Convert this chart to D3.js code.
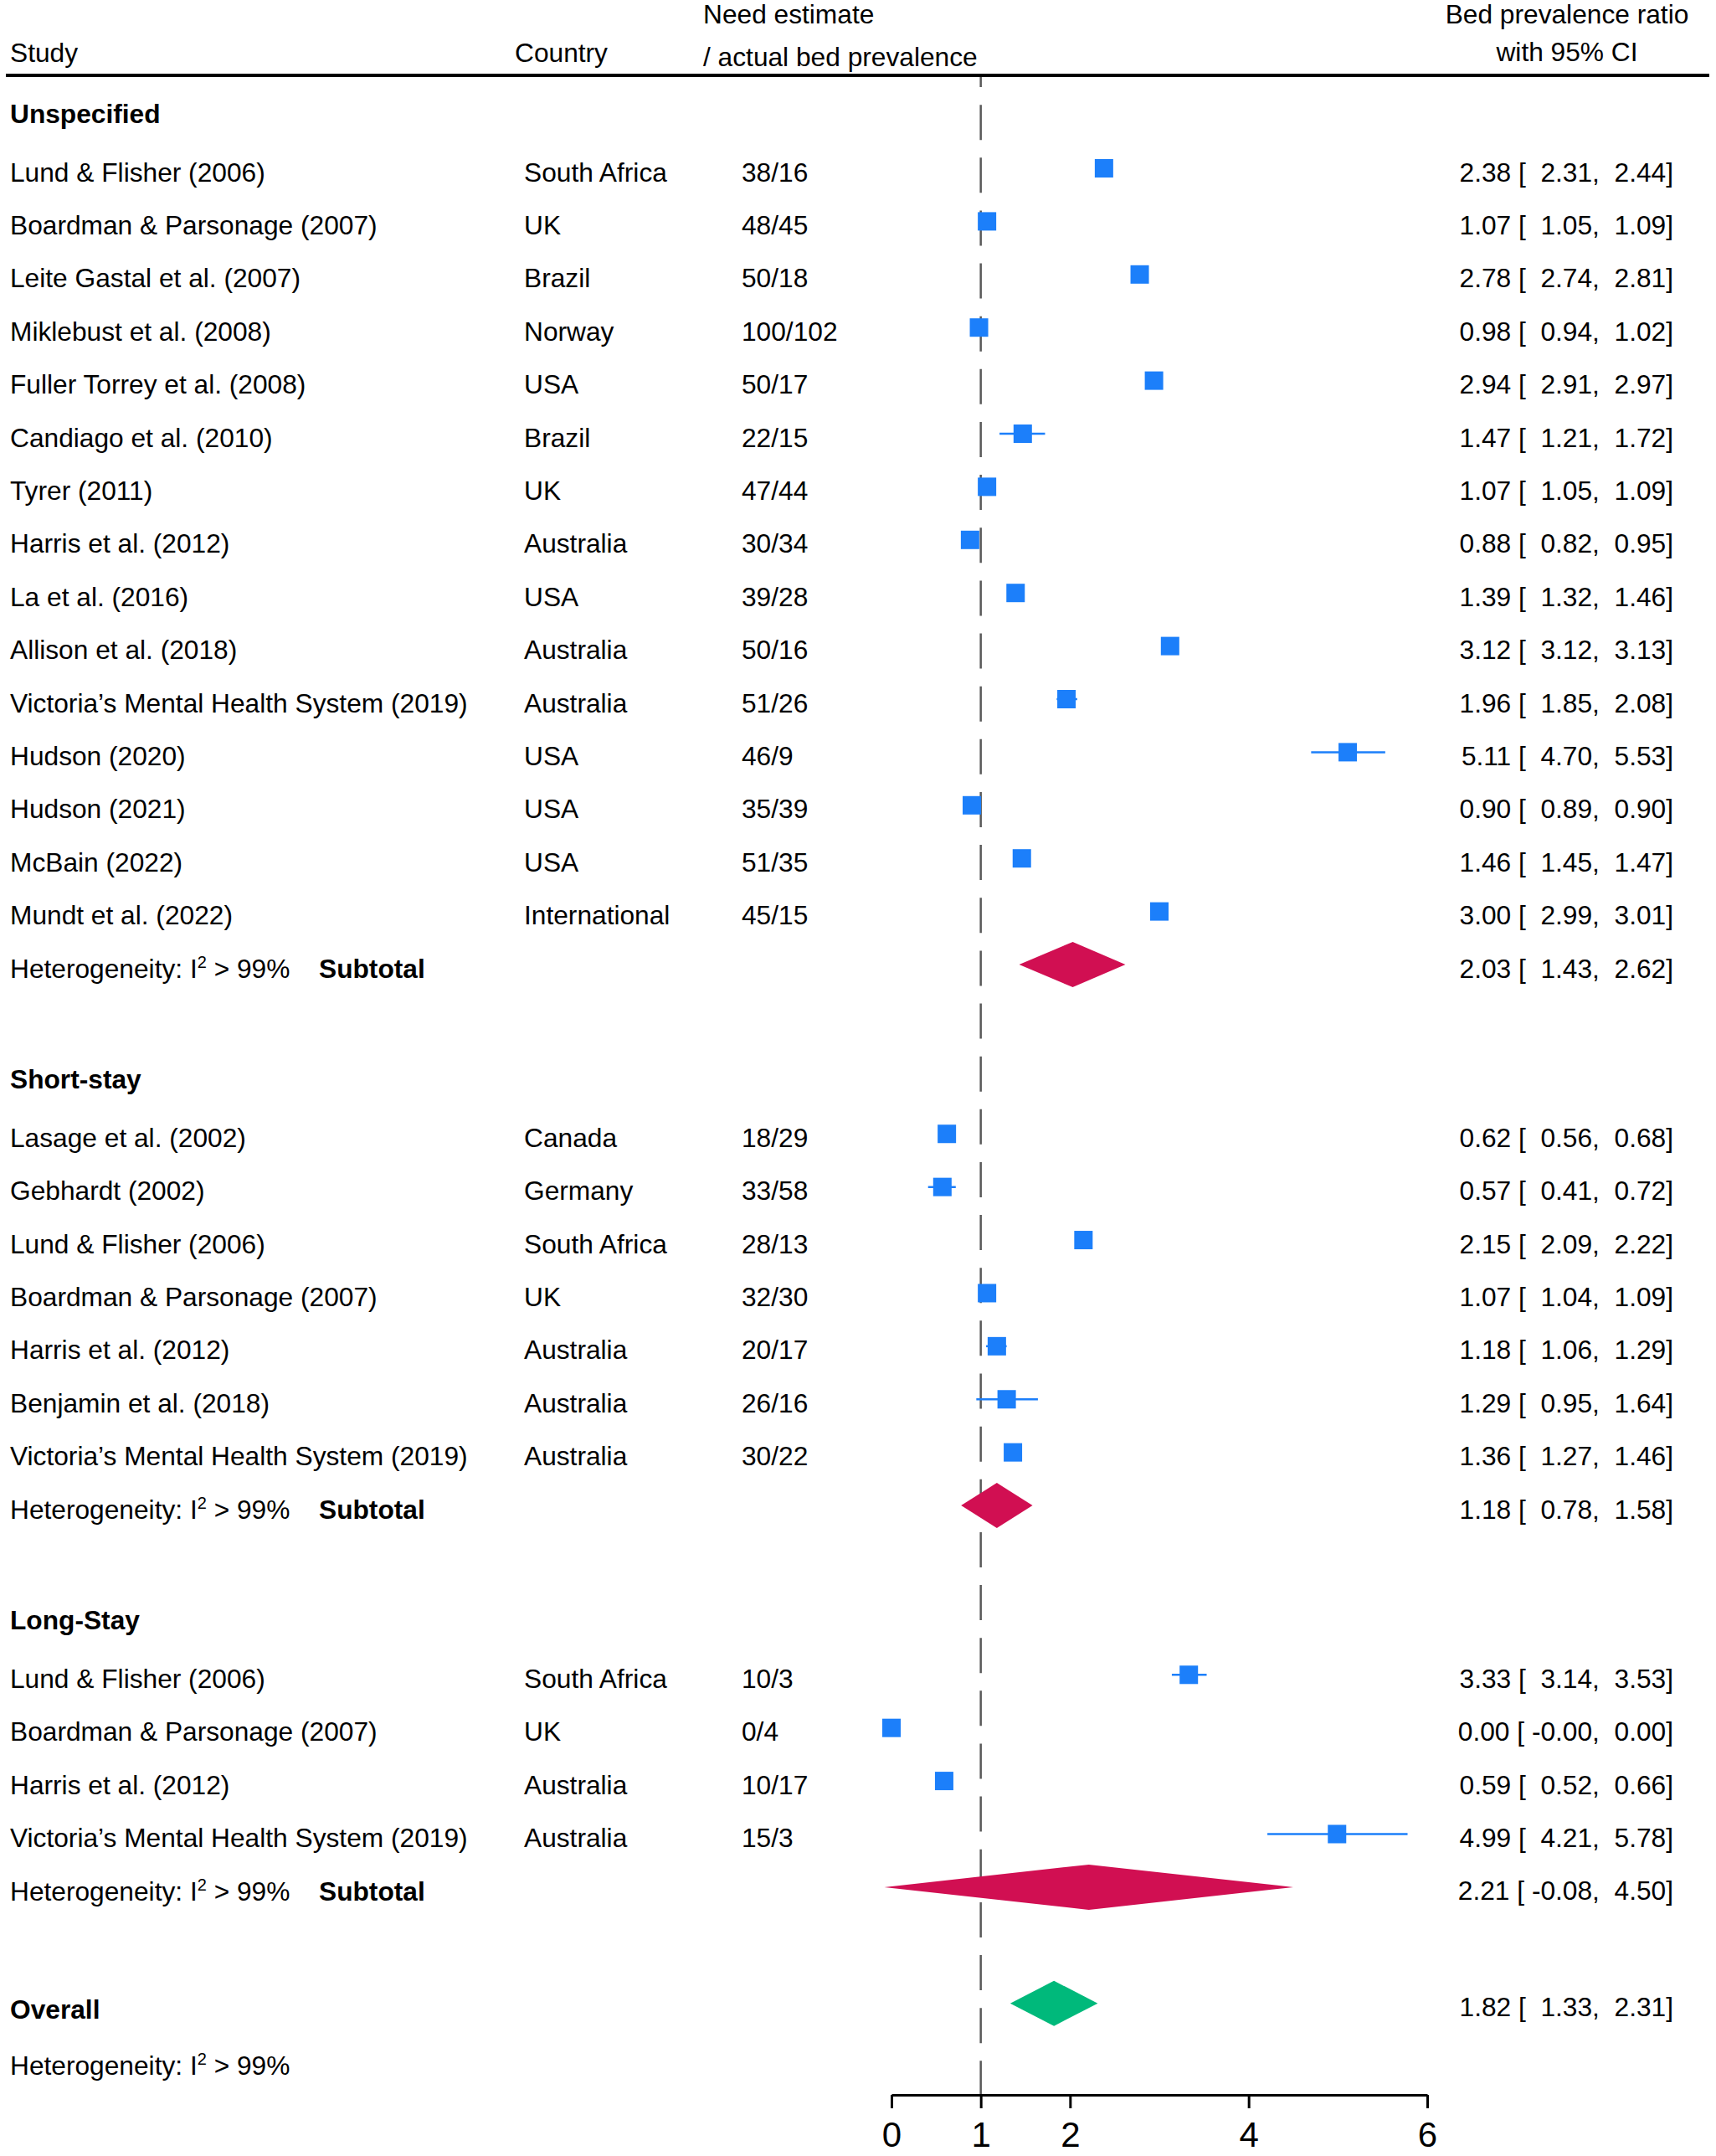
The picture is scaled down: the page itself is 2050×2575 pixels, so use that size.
<!DOCTYPE html>
<html lang="en">
<head>
  <meta charset="utf-8">
  <title>bed prevalence forest plot</title>
  <style>
    body { margin: 0; background: #fff; }
    svg text { font-family: "Liberation Sans", Arial, Helvetica, sans-serif; fill: #000; }
    .mono { white-space: pre; }
  </style>
</head>
<body>

  <svg class="canvas" width="2050" height="2575"></svg>

  <script src="https://cdn.jsdelivr.net/npm/d3@7"></script>
  <script>

/**

  data

**/

const groupNames = ["Unspecified", "Short-stay", "Long-Stay"];

const studyGroup = [0,0,0,0,0,0,0,0,0,0,0,0,0,0,0, 1,1,1,1,1,1,1, 2,2,2,2];

const studyNames = [
  "Lund & Flisher (2006)", "Boardman & Parsonage (2007)", "Leite Gastal et al. (2007)",
  "Miklebust et al. (2008)", "Fuller Torrey et al. (2008)", "Candiago et al. (2010)",
  "Tyrer (2011)", "Harris et al. (2012)", "La et al. (2016)", "Allison et al. (2018)",
  "Victoria\u2019s Mental Health System (2019)", "Hudson (2020)", "Hudson (2021)",
  "McBain (2022)", "Mundt et al. (2022)",
  "Lasage et al. (2002)", "Gebhardt (2002)", "Lund & Flisher (2006)",
  "Boardman & Parsonage (2007)", "Harris et al. (2012)", "Benjamin et al. (2018)",
  "Victoria\u2019s Mental Health System (2019)",
  "Lund & Flisher (2006)", "Boardman & Parsonage (2007)", "Harris et al. (2012)",
  "Victoria\u2019s Mental Health System (2019)"
];

const countries = [
  "South Africa", "UK", "Brazil", "Norway", "USA", "Brazil", "UK", "Australia", "USA",
  "Australia", "Australia", "USA", "USA", "USA", "International",
  "Canada", "Germany", "South Africa", "UK", "Australia", "Australia", "Australia",
  "South Africa", "UK", "Australia", "Australia"
];

const needActual = [
  "38/16", "48/45", "50/18", "100/102", "50/17", "22/15", "47/44", "30/34", "39/28",
  "50/16", "51/26", "46/9", "35/39", "51/35", "45/15",
  "18/29", "33/58", "28/13", "32/30", "20/17", "26/16", "30/22",
  "10/3", "0/4", "10/17", "15/3"
];

const ratio  = [2.38, 1.07, 2.78, 0.98, 2.94, 1.47, 1.07, 0.88, 1.39, 3.12, 1.96, 5.11, 0.90, 1.46, 3.00,
                0.62, 0.57, 2.15, 1.07, 1.18, 1.29, 1.36,
                3.33, 0.00, 0.59, 4.99];
const ciLow  = [2.31, 1.05, 2.74, 0.94, 2.91, 1.21, 1.05, 0.82, 1.32, 3.12, 1.85, 4.70, 0.89, 1.45, 2.99,
                0.56, 0.41, 2.09, 1.04, 1.06, 0.95, 1.27,
                3.14, -0.001, 0.52, 4.21];
const ciHigh = [2.44, 1.09, 2.81, 1.02, 2.97, 1.72, 1.09, 0.95, 1.46, 3.13, 2.08, 5.53, 0.90, 1.47, 3.01,
                0.68, 0.72, 2.22, 1.09, 1.29, 1.64, 1.46,
                3.53, 0.00, 0.66, 5.78];

// subgroup pooled estimates
const subRatio = [2.03, 1.18, 2.21];
const subLow   = [1.43, 0.78, -0.08];
const subHigh  = [2.62, 1.58, 4.50];

const overallRatio = [1.82, 1.33, 2.31];   // estimate, lower, upper
const heterogeneity = "> 99%";

const xTicks = [0, 1, 2, 4, 6];


/**

  layout

**/

const rowH = 63.4;
const blue = "#1C7FFA", crimson = "#D10F52", green = "#00B97B";
const fs = 31.7;

let x = d3.scaleLinear().domain([0, 6]).range([1065, 1705]);

let colStudy = 12, colCountry = 626, colNeed = 886, colAnnot = 1999;

let svg = d3.select(".canvas");

// work out the row for every heading / study / subtotal
let rows = [];
let y = 137.6;
groupNames.forEach(function(g, gi) {
  rows.push({type: "heading", y: y, label: g});
  studyGroup.forEach(function(sg, i) {
    if (sg == gi) {
      y += rowH;
      rows.push({type: "study", y: y, i: i});
    }
  });
  y += rowH;
  rows.push({type: "subtotal", y: y, g: gi});
  y += rowH * 2.19;
});
let overallY = y;
let hetY = overallY + rowH * 1.1;

function fmt(v) {
  return v.toFixed(2).padStart(6);
}
function annot(est, lo, hi) {
  return est.toFixed(2) + " [" + fmt(lo) + "," + fmt(hi) + "]";
}

function hetText(sel, xpos, ypos) {
  let t = sel.append("text")
    .attr("x", xpos).attr("y", ypos)
    .attr("font-size", fs);
  t.append("tspan").text("Heterogeneity: I");
  t.append("tspan").text("2").attr("font-size", 20).attr("dy", -12);
  t.append("tspan").text(" " + heterogeneity).attr("dy", 12);
  return t;
}

function diamond(cx, lo, hi, cy, h) {
  return "M" + x(lo) + "," + cy + "L" + x(cx) + "," + (cy - h) +
         "L" + x(hi) + "," + cy + "L" + x(cx) + "," + (cy + h) + "Z";
}


/**

  header

**/

let head = svg.append("g");
head.append("text").attr("x", colStudy).attr("y", 74).attr("font-size", fs).text("Study");
head.append("text").attr("x", 615).attr("y", 74).attr("font-size", fs).text("Country");
head.append("text").attr("x", 840).attr("y", 28).attr("font-size", fs).text("Need estimate");
head.append("text").attr("x", 840).attr("y", 79).attr("font-size", fs).text("/ actual bed prevalence");
head.append("text").attr("x", 1872).attr("y", 28).attr("font-size", fs)
  .attr("text-anchor", "middle").text("Bed prevalence ratio");
head.append("text").attr("x", 1872).attr("y", 73).attr("font-size", fs)
  .attr("text-anchor", "middle").text("with 95% CI");

svg.append("line")
  .attr("x1", 7).attr("x2", 2042).attr("y1", 90).attr("y2", 90)
  .attr("stroke", "#000").attr("stroke-width", 4);

// reference line at ratio 1
svg.append("line")
  .attr("x1", x(1)).attr("x2", x(1))
  .attr("y1", 92).attr("y2", 2502)
  .attr("stroke", "#5a5a5a").attr("stroke-width", 2.5)
  .attr("stroke-dasharray", "42 21.14")
  .attr("stroke-dashoffset", 30);


/**

  rows

**/

let g = svg.append("g");

rows.forEach(function(r) {
  if (r.type == "heading") {
    g.append("text").attr("x", colStudy).attr("y", r.y + 9)
      .attr("font-size", fs).attr("font-weight", "bold").text(r.label);
  }
  else if (r.type == "study") {
    let i = r.i;
    g.append("text").attr("x", colStudy).attr("y", r.y + 15.5).attr("font-size", fs).text(studyNames[i]);
    g.append("text").attr("x", colCountry).attr("y", r.y + 15.5).attr("font-size", fs).text(countries[i]);
    g.append("text").attr("x", colNeed).attr("y", r.y + 15.5).attr("font-size", fs).text(needActual[i]);
    g.append("text").attr("class", "mono").attr("x", colAnnot).attr("y", r.y + 15.5)
      .attr("font-size", fs).attr("text-anchor", "end")
      .text(annot(ratio[i], ciLow[i], ciHigh[i]));

    g.append("line")
      .attr("x1", x(ciLow[i])).attr("x2", x(ciHigh[i]))
      .attr("y1", r.y).attr("y2", r.y)
      .attr("stroke", blue).attr("stroke-width", 2.5);
    g.append("rect")
      .attr("x", x(ratio[i]) - 11).attr("y", r.y - 11)
      .attr("width", 22).attr("height", 22)
      .attr("fill", blue);
  }
  else {
    let k = r.g;
    hetText(g, colStudy, r.y + 16);
    g.append("text").attr("x", 381).attr("y", r.y + 16)
      .attr("font-size", fs).attr("font-weight", "bold").text("Subtotal");
    g.append("text").attr("class", "mono").attr("x", colAnnot).attr("y", r.y + 15.5)
      .attr("font-size", fs).attr("text-anchor", "end")
      .text(annot(subRatio[k], subLow[k], subHigh[k]));
    g.append("path")
      .attr("d", diamond(subRatio[k], subLow[k], subHigh[k], r.y, 27))
      .attr("fill", crimson);
  }
});

// overall
g.append("text").attr("x", colStudy).attr("y", overallY + 18)
  .attr("font-size", fs).attr("font-weight", "bold").text("Overall");
g.append("text").attr("class", "mono").attr("x", colAnnot).attr("y", overallY + 15.5)
  .attr("font-size", fs).attr("text-anchor", "end")
  .text(annot(overallRatio[0], overallRatio[1], overallRatio[2]));
g.append("path")
  .attr("d", diamond(overallRatio[0], overallRatio[1], overallRatio[2], overallY, 27))
  .attr("fill", green);
hetText(g, colStudy, hetY + 16);


/**

  x axis

**/

let axis = svg.append("g")
  .attr("transform", "translate(0,2502)")
  .call(d3.axisBottom(x).tickValues(xTicks).tickFormat(d3.format("d"))
          .tickSize(16).tickSizeOuter(0).tickPadding(16));

axis.select(".domain").attr("stroke", "#000").attr("stroke-width", 3);
axis.selectAll(".tick line").attr("stroke", "#000").attr("stroke-width", 3);
axis.selectAll(".tick text")
  .attr("font-size", 42)
  .attr("font-family", "\"Liberation Sans\", Arial, sans-serif")
  .attr("fill", "#000");

  </script>
</body>
</html>
